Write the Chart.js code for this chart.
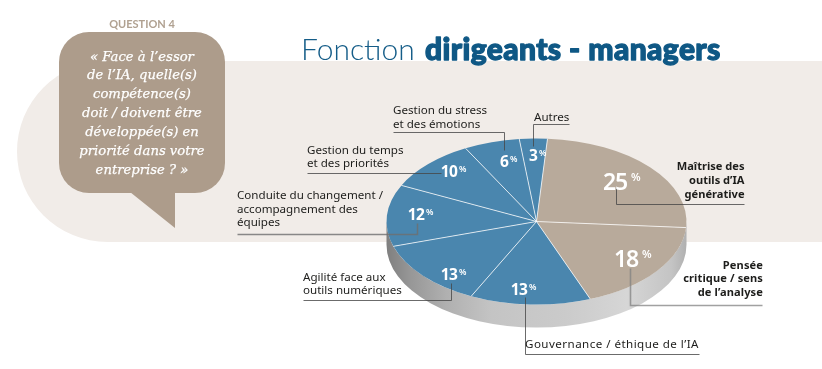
<!DOCTYPE html>
<html lang="fr">
<head>
<meta charset="utf-8">
<title>Fonction dirigeants - managers</title>
<script src="https://cdn.jsdelivr.net/npm/chart.js@4/dist/chart.umd.min.js"></script>
<style>
html,body{margin:0;padding:0;background:#fff;}
#wrap{position:relative;width:822px;height:369px;overflow:hidden;}
canvas{position:absolute;left:0;top:0;}
</style>
</head>
<body>
<div id="wrap"><canvas id="c" width="822" height="369"></canvas></div>
<script>
// ---- data ----
const categories = [
  "Maîtrise des outils d’IA générative",
  "Pensée critique / sens de l’analyse",
  "Gouvernance / éthique de l’IA",
  "Agilité face aux outils numériques",
  "Conduite du changement / accompagnement des équipes",
  "Gestion du temps et des priorités",
  "Gestion du stress et des émotions",
  "Autres"
];
const values = [25, 18, 13, 13, 12, 10, 6, 3];
const sliceColors = ["#b8aa9b","#b8aa9b","#4a86ae","#4a86ae","#4a86ae","#4a86ae","#4a86ae","#4a86ae"];
const titleLight = "Fonction ";
const titleBold = "dirigeants - managers";
const kicker = "QUESTION 4";
const questionLines = ["« Face à l’essor","de l’IA, quelle(s)","compétence(s)","doit / doivent être","développée(s) en","priorité dans votre","entreprise ? »"];

// ---- layout (page pixels) ----
const PIE = {cx:536.5, cy:221.5, rx:150, ry:83, depth:23, rotation:4.2};
// one entry per slice, same order as the data
const calloutLayout = [
  {lines:["Maîtrise des","outils d’IA","générative"], x:744.5, y:[170,184,198], align:"right", bold:true, spacing:0,
   num:[627,190,23,11,4], leader:[[616,187],[616,204],[744,204]], stroke:"rgba(70,70,70,0.8)", lw:1},
  {lines:["Pensée","critique / sens","de l’analyse"], x:763, y:[269,282,296], align:"right", bold:true, spacing:0.1,
   num:[638,267,23,11,4], leader:[[630,268],[630,305],[762,305]], stroke:"rgba(130,130,130,0.75)", lw:1.6},
  {lines:["Gouvernance / éthique de l’IA"], x:525, y:[348], align:"left", bold:false, spacing:0.45,
   num:[527,295,15.5,8.5,2], leader:[[525,297],[525,354],[699,354]], stroke:"rgba(70,70,70,0.8)", lw:1},
  {lines:["Agilité face aux","outils numériques"], x:303, y:[281,294], align:"left", bold:false, spacing:0,
   num:[457,280,15.5,8.5,2], leader:[[451,283],[451,300],[303,300]], stroke:"rgba(70,70,70,0.8)", lw:1},
  {lines:["Conduite du changement /","accompagnement des","équipes"], x:237, y:[199,213,226], align:"left", bold:false, spacing:0,
   num:[424,220,15.5,8.5,2], leader:[[417,223],[417,234],[237,234]], stroke:"rgba(110,110,110,0.8)", lw:1.5},
  {lines:["Gestion du temps","et des priorités"], x:307, y:[154,167], align:"left", bold:false, spacing:0,
   num:[457,177,15.5,8.5,2], leader:[[441,173],[307,173]], stroke:"rgba(70,70,70,0.8)", lw:1},
  {lines:["Gestion du stress","et des émotions"], x:393, y:[114,128], align:"left", bold:false, spacing:0,
   num:[508,167,15.5,8.5,2], leader:[[504,150],[504,132],[393,132]], stroke:"rgba(70,70,70,0.8)", lw:1},
  {lines:["Autres"], x:534, y:[121], align:"left", bold:false, spacing:0,
   num:[537,161,15.5,8.5,2], leader:[[533,146],[533,124],[569,124]], stroke:"rgba(70,70,70,0.8)", lw:1}
];

function ellipseBand(ctx){
  // side wall of the pie: lower half of the ellipse extruded downward
  const {cx,cy,rx,ry,depth} = PIE;
  ctx.beginPath();
  ctx.ellipse(cx,cy,rx,ry,0,0,Math.PI,false);
  ctx.lineTo(cx-rx,cy+depth-6);
  ctx.ellipse(cx,cy+depth,rx,ry,0,Math.PI,0,true);
  ctx.lineTo(cx+rx,cy);
  ctx.closePath();
}

const pageBackground = {
  id:"pageBackground",
  beforeDraw(chart){
    const ctx = chart.ctx;
    ctx.save();
    ctx.fillStyle = "#fff";
    ctx.fillRect(0,0,822,369);
    // band
    ctx.fillStyle = "#f1ece8";
    ctx.beginPath();
    ctx.roundRect(17,61,900,181,90.5);
    ctx.fill();
    // bubble
    ctx.fillStyle = "#ad9c8b";
    ctx.beginPath();
    ctx.roundRect(59,32,166,161,30);
    ctx.fill();
    ctx.beginPath();
    ctx.moveTo(130,192);ctx.lineTo(175,228);ctx.lineTo(175,192);ctx.closePath();
    ctx.fill();
    // kicker
    ctx.fillStyle = "#b0a191";
    ctx.font = "bold 11px Lato";
    ctx.textAlign = "center";
    ctx.textBaseline = "alphabetic";
    ctx.fillText(kicker,142,28);
    // question
    ctx.fillStyle = "#fff";
    ctx.strokeStyle = "#fff";
    ctx.lineWidth = 0.25;
    ctx.font = "italic 13.2px 'DejaVu Serif'";
    questionLines.forEach((l,i)=>{
      ctx.fillText(l,142,60.5+i*18.85);
      ctx.strokeText(l,142,60.5+i*18.85);
    });
    // title
    ctx.textAlign = "left";
    ctx.fillStyle = "#155d88";
    ctx.font = "300 30px Lato";
    ctx.fillText(titleLight,301,60);
    ctx.fillStyle = "#0f5885";
    ctx.strokeStyle = "#0f5885";
    ctx.lineWidth = 1.3;
    ctx.lineJoin = "round";
    ctx.font = "900 30px Lato";
    ctx.letterSpacing = "0.4px";
    ctx.fillText(titleBold,425,60);
    ctx.strokeText(titleBold,425,60);
    ctx.letterSpacing = "0px";
    ctx.restore();
  }
};

const tiltPie = {
  id:"tiltPie",
  beforeDatasetsDraw(chart){
    const ctx = chart.ctx;
    const arc = chart.getDatasetMeta(0).data[0];
    // side wall
    ctx.save();
    const g = ctx.createLinearGradient(PIE.cx-PIE.rx,0,PIE.cx+PIE.rx,0);
    g.addColorStop(0,"#7f7f7f");
    g.addColorStop(0.08,"#979797");
    g.addColorStop(0.2,"#b0b0b0");
    g.addColorStop(0.35,"#c4c4c4");
    g.addColorStop(0.6,"#cbcbcb");
    g.addColorStop(0.8,"#d6d6d6");
    g.addColorStop(0.95,"#c4c4c4");
    g.addColorStop(1,"#b0b0b0");
    ctx.fillStyle = g;
    ellipseBand(ctx);
    ctx.fill();
    ctx.restore();
    // squash the library's circular arcs into the tilted ellipse
    ctx.save();
    ctx.translate(0,PIE.cy);
    ctx.scale(1,PIE.ry/arc.outerRadius);
    ctx.translate(0,-arc.y);
  },
  afterDatasetsDraw(chart){
    const ctx = chart.ctx;
    ctx.restore();
    const arcs = chart.getDatasetMeta(0).data;
    const k = PIE.ry/arcs[0].outerRadius;
    // white separators from the library's arc geometry
    ctx.save();
    ctx.strokeStyle = "rgba(255,255,255,0.75)";
    ctx.lineWidth = 1;
    arcs.forEach(a=>{
      ctx.beginPath();
      ctx.moveTo(arcs[0].x,PIE.cy);
      ctx.lineTo(a.x+Math.cos(a.startAngle)*a.outerRadius, PIE.cy+Math.sin(a.startAngle)*a.outerRadius*k);
      ctx.stroke();
    });
    // percentages and call-outs
    ctx.textBaseline = "alphabetic";
    arcs.forEach((a,i)=>{
      const c = calloutLayout[i];
      ctx.strokeStyle = c.stroke;
      ctx.lineWidth = c.lw;
      ctx.beginPath();
      c.leader.forEach((p,j)=>j?ctx.lineTo(p[0]+.5,p[1]+.5):ctx.moveTo(p[0]+.5,p[1]+.5));
      ctx.stroke();
      ctx.fillStyle = "#1d1d1b";
      ctx.font = c.bold ? "700 11.1px 'Noto Sans'" : "400 11.6px 'Noto Sans'";
      ctx.letterSpacing = c.spacing+"px";
      ctx.textAlign = c.align;
      c.lines.forEach((l,j)=>ctx.fillText(l,c.x,c.y[j]));
      const [nx,ny,size,pct,gap] = c.num;
      ctx.fillStyle = "#fff";
      ctx.textAlign = "right";
      ctx.letterSpacing = (size>20?"-1.2px":"-0.8px");
      ctx.font = (size>20?"600 ":"700 ")+size+"px 'Noto Sans'";
      ctx.fillText(String(values[i]),nx,ny);
      ctx.textAlign = "left";
      ctx.letterSpacing = "0px";
      ctx.font = "600 "+pct+"px 'Noto Sans'";
      ctx.fillText("%",nx+gap,ny-size*0.714+pct*0.714);
    });
    ctx.restore();
  }
};

new Chart(document.getElementById("c"),{
  type:"pie",
  data:{labels:categories,datasets:[{data:values,backgroundColor:sliceColors,borderWidth:0}]},
  options:{
    responsive:false,
    animation:false,
    rotation:PIE.rotation,
    layout:{padding:{left:PIE.cx-PIE.rx,right:822-PIE.cx-PIE.rx,top:34.5,bottom:34.5}},
    plugins:{legend:{display:false},tooltip:{enabled:false}}
  },
  plugins:[pageBackground,tiltPie]
});
</script>
</body>
</html>
